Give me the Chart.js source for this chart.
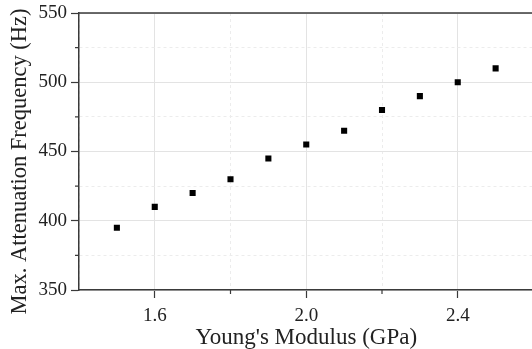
<!DOCTYPE html>
<html>
<head>
<meta charset="utf-8">
<script src="https://cdn.jsdelivr.net/npm/chart.js@4/dist/chart.umd.min.js"></script>
<style>
  html, body { margin: 0; padding: 0; background: #fff; overflow: hidden; }
  #wrap { position: absolute; left: 0; top: 0; width: 540px; height: 349px; }
</style>
</head>
<body>
<div id="wrap"><canvas id="c"></canvas></div>
<script>
// Young's modulus (GPa) against the frequency of maximum attenuation (Hz)
const modulus = [1.5, 1.6, 1.7, 1.8, 1.9, 2.0, 2.1, 2.2, 2.3, 2.4, 2.5];
const maxAttenuationFreq = [395, 410, 420, 430, 445, 455, 465, 480, 490, 500, 510];

// Axis ranges and labelled ticks
const xRange = [1.4, 2.6];
const yRange = [350, 550];
const xMajorLabels = ['1.6', '2.0', '2.4'];
const yMajorLabels = ['350', '400', '450', '500', '550'];
const xTitle = "Young's Modulus (GPa)";
const yTitle = 'Max. Attenuation Frequency (Hz)';

const serif = "'Liberation Serif', 'Times New Roman', serif";
const axisColor = '#3a3a3a';
const textColor = '#222';
const MAJOR_TICK = 8;
const MINOR_TICK = 4;

const isMajorX = v => xMajorLabels.includes((Math.round(v * 10) / 10).toFixed(1));
const isMajorY = v => yMajorLabels.includes(String(Math.round(v)));

// Top frame line, shorter minor tick marks and the rotated y-axis title
const frameAndMinorTicks = {
  id: 'frameAndMinorTicks',
  afterDraw(chart) {
    const { ctx, chartArea, scales } = chart;
    ctx.save();
    ctx.strokeStyle = axisColor;
    ctx.lineWidth = 1.5;
    ctx.beginPath();
    ctx.moveTo(chartArea.left - 0.75, chartArea.top);
    ctx.lineTo(chartArea.right, chartArea.top);
    ctx.stroke();

    ctx.lineWidth = 1.2;
    ctx.beginPath();
    scales.x.ticks.forEach(t => {
      if (isMajorX(t.value)) return;
      const px = scales.x.getPixelForValue(t.value);
      if (px <= chartArea.left + 1) return;
      ctx.moveTo(px, chartArea.bottom);
      ctx.lineTo(px, chartArea.bottom + MINOR_TICK);
    });
    scales.y.ticks.forEach(t => {
      if (isMajorY(t.value)) return;
      const py = scales.y.getPixelForValue(t.value);
      ctx.moveTo(chartArea.left, py);
      ctx.lineTo(chartArea.left - MINOR_TICK, py);
    });
    ctx.stroke();

    // y-axis title, set slightly below the plot's vertical centre
    ctx.translate(20, (chartArea.top + chartArea.bottom) / 2 + 10);
    ctx.rotate(-Math.PI / 2);
    ctx.fillStyle = textColor;
    ctx.font = `22.5px ${serif}`;
    ctx.textAlign = 'center';
    ctx.textBaseline = 'middle';
    ctx.fillText(yTitle, 0, 0);
    ctx.restore();
  }
};

new Chart(document.getElementById('c'), {
  type: 'scatter',
  data: {
    datasets: [{
      data: modulus.map((x, i) => ({ x, y: maxAttenuationFreq[i] })),
      pointStyle: 'rect',
      pointRadius: 4.3,
      pointHoverRadius: 4.3,
      backgroundColor: '#000',
      borderColor: '#000',
      borderWidth: 0
    }]
  },
  options: {
    responsive: true,
    maintainAspectRatio: false,
    animation: false,
    layout: { padding: { top: 13, right: 6.5, left: 0, bottom: 0 } },
    plugins: { legend: { display: false }, tooltip: { enabled: false } },
    scales: {
      x: {
        type: 'linear',
        min: xRange[0],
        max: xRange[1],
        afterFit(s) { s.height = 59; s.paddingLeft = 0; s.paddingRight = 0; },
        ticks: {
          stepSize: 0.2,
          autoSkip: false,
          maxRotation: 0,
          padding: 7,
          color: textColor,
          font: { family: serif, size: 19 },
          callback: v => isMajorX(v) ? (Math.round(v * 10) / 10).toFixed(1) : ''
        },
        grid: {
          color: c => isMajorX(c.tick ? c.tick.value : 0) ? '#e3e3e3' : '#ececec',
          lineWidth: 1,
          tickColor: c => isMajorX(c.tick ? c.tick.value : 0) ? axisColor : 'rgba(0,0,0,0)',
          tickLength: MAJOR_TICK,
          tickWidth: 1.2
        },
        border: {
          color: axisColor,
          width: 1.5,
          dash: c => (c.tick && !isMajorX(c.tick.value)) ? [3, 3] : []
        },
        title: {
          display: true,
          text: xTitle,
          color: textColor,
          font: { family: serif, size: 23 },
          padding: { top: 0, bottom: -3 }
        }
      },
      y: {
        type: 'linear',
        min: yRange[0],
        max: yRange[1],
        afterFit(s) { s.width = 79; s.paddingTop = 0; s.paddingBottom = 0; },
        ticks: {
          stepSize: 25,
          autoSkip: false,
          padding: 4,
          color: textColor,
          font: { family: serif, size: 19 },
          callback: v => isMajorY(v) ? String(Math.round(v)) : ''
        },
        grid: {
          color: c => isMajorY(c.tick ? c.tick.value : 0) ? '#e3e3e3' : '#ececec',
          lineWidth: 1,
          tickColor: c => isMajorY(c.tick ? c.tick.value : 0) ? axisColor : 'rgba(0,0,0,0)',
          tickLength: MAJOR_TICK,
          tickWidth: 1.2
        },
        border: {
          color: axisColor,
          width: 1.5,
          dash: c => (c.tick && !isMajorY(c.tick.value)) ? [3, 3] : []
        },
        title: { display: false }
      }
    }
  },
  plugins: [frameAndMinorTicks]
});
</script>
</body>
</html>
